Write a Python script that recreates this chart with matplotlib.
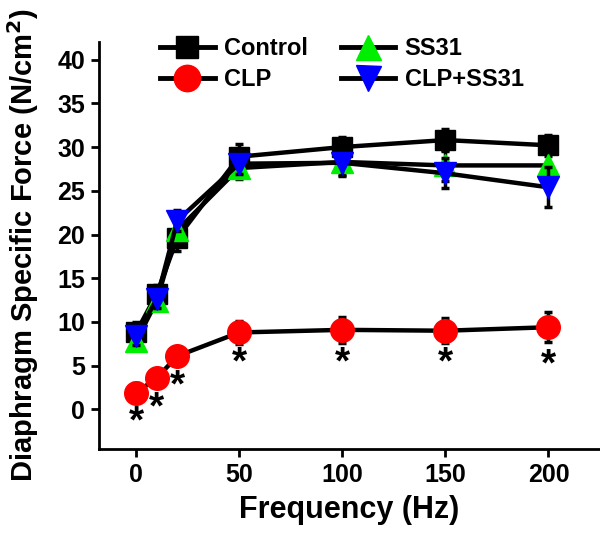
import matplotlib
matplotlib.use("Agg")
import matplotlib.pyplot as plt
from matplotlib.lines import Line2D

plt.rcParams['font.family'] = ['Liberation Sans', 'DejaVu Sans']
plt.rcParams['font.weight'] = 'bold'

freq = [0, 10, 20, 50, 100, 150, 200]

control = [8.8, 13.2, 19.6, 28.9, 30.0, 30.8, 30.2]
control_err = [1.2, 1.0, 1.5, 1.5, 1.2, 1.3, 1.2]

clp = [1.9, 3.6, 6.1, 8.8, 9.1, 9.0, 9.4]
clp_err = [1.1, 0.7, 0.8, 1.3, 1.5, 1.4, 1.7]

ss31 = [7.8, 12.4, 20.5, 27.6, 28.3, 27.9, 27.9]
ss31_err = [1.0, 1.0, 1.2, 1.2, 1.5, 1.8, 1.8]

clp_ss31 = [8.4, 12.6, 21.6, 28.1, 28.2, 27.0, 25.4]
clp_ss31_err = [1.0, 1.0, 1.2, 1.2, 1.5, 1.7, 2.3]

star_y = [-1.5, 0.1, 2.6, 5.2, 5.3, 5.2, 5.0]

fig = plt.figure(figsize=(6, 5.33), dpi=100)
ax = fig.add_axes([0.165, 0.158, 0.835, 0.763])

kw = dict(color='black', lw=3.2, elinewidth=2.5, capsize=3, capthick=2.5, ecolor='black')
series = [
    ('Control', control, control_err, 's', 14, 'black', 3),
    ('CLP', clp, clp_err, 'o', 17, 'red', 3),
    ('SS31', ss31, ss31_err, '^', 16, '#00ee00', 4),
    ('CLP+SS31', clp_ss31, clp_ss31_err, 'v', 16, 'blue', 5),
]
handles = []
for name, vals, err, mk, ms, col, z in series:
    ax.errorbar(freq, vals, yerr=err, marker=mk, ms=ms, mfc=col, mec=col, zorder=z, **kw)
    handles.append(Line2D([], [], color='black', lw=3.5, marker=mk, ms=ms + 2,
                          mfc=col, mec=col, label=name))

for x, y in zip(freq, star_y):
    ax.text(x, y, '*', ha='center', va='center', fontsize=28, fontweight='bold')

ax.set_xlim(-18, 225)
ax.set_ylim(-4.5, 42)
ax.set_xticks([0, 50, 100, 150, 200])
ax.set_yticks(range(0, 41, 5))
ax.tick_params(direction='out', length=6, width=2, labelsize=18, pad=4)
for lab in ax.get_xticklabels() + ax.get_yticklabels():
    lab.set_fontweight('bold')
for s in ['top', 'right']:
    ax.spines[s].set_visible(False)
for s in ['left', 'bottom']:
    ax.spines[s].set_linewidth(2)

ax.set_xlabel('Frequency (Hz)', fontsize=22, fontweight='bold', labelpad=6)
ax.set_ylabel('Diaphragm Specific Force (N/cm$^\\mathbf{2}$)', fontsize=21,
              fontweight='bold', labelpad=12)

leg = ax.legend(handles=handles, ncol=2, loc='upper left', bbox_to_anchor=(0.08, 1.065),
                frameon=False, fontsize=17, handlelength=2.3, columnspacing=1.4,
                labelspacing=0.35, handletextpad=0.4)
for t in leg.get_texts():
    t.set_fontweight('bold')

fig.savefig('out.png', dpi=100)
